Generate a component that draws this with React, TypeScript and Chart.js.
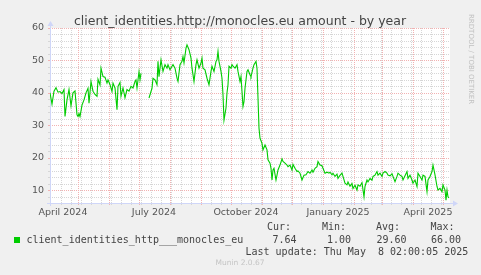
import React, { useEffect, useRef } from 'react';
import { Chart, registerables } from 'chart.js';

Chart.register(...registerables);

const TITLE = 'client_identities.http://monocles.eu amount - by year';
const SERIES_NAME = 'client_identities_http___monocles_eu';
const START_DATE = '2024-04-03';
const SPAN_DAYS = 400;

// day offsets from START_DATE and the plotted value on that day (null = no data)
const days = [
  0, 2, 4, 6, 8, 10, 12, 14, 15, 17,
  19, 21, 23, 25, 27, 28, 29, 30, 32, 34,
  36, 38, 39, 41, 43, 45, 47, 48, 50, 51,
  53, 55, 57, 58, 60, 62, 63, 65, 67, 68,
  70, 71, 73, 75, 77, 79, 81, 83, 85, 86,
  87, 89, 90, 91, 95, 99, 102, 103, 105, 107,
  108, 109, 111, 113, 115, 117, 118, 120, 122, 123,
  125, 127, 128, 130, 132, 133, 134, 136, 137, 139,
  141, 142, 143, 144, 146, 147, 149, 151, 152, 153,
  155, 157, 159, 161, 162, 164, 166, 167, 168, 169,
  171, 172, 173, 174, 176, 177, 178, 179, 181, 182,
  183, 185, 187, 188, 190, 191, 192, 193, 194, 195,
  197, 198, 200, 201, 203, 204, 206, 207, 209, 210,
  212, 213, 215, 217, 218, 220, 221, 222, 223, 224,
  226, 227, 228, 230, 232, 233, 235, 237, 238, 240,
  242, 243, 245, 247, 248, 250, 252, 254, 256, 258,
  260, 262, 263, 265, 267, 268, 270, 272, 273, 275,
  277, 279, 280, 282, 283, 285, 287, 288, 290, 292,
  293, 295, 297, 298, 300, 302, 303, 305, 307, 308,
  310, 312, 314, 315, 317, 318, 320, 322, 323, 325,
  327, 328, 330, 332, 333, 335, 337, 338, 340, 342,
  343, 345, 347, 348, 350, 352, 353, 355, 357, 358,
  360, 362, 363, 365, 367, 368, 370, 372, 373, 375,
  377, 378, 380, 382, 383, 385, 387, 388, 390, 392,
  393, 395, 396, 397, 398, 399,
];

const values: (number | null)[] = [
  40, 36.5, 40.5, 41.6, 40.2, 40.4, 39.8, 41.0, 32.7, 37.8,
  41, 36, 40, 40.6, 33.2, 32.7, 33.6, 32.7, 36.2, 37.8,
  40, 41.4, 36.8, 43.5, 40.5, 39.5, 38.9, 44.2, 42.4, 47.6,
  45, 44.8, 43, 44, 42.5, 40.4, 43, 41.5, 34.8, 42,
  43.2, 39, 41.5, 38.5, 41, 40.5, 42, 41.5, 43.5, 44,
  41.5, 46.5, 44, 46, null, 38.4, 41.4, 44.5, 44, 42.5,
  49.7, 45, 50.2, 46.6, 48.7, 47.6, 48.7, 47.1, 48.2, 48.7,
  47.6, 44.5, 43.5, 48.7, 49.7, 51.2, 49.2, 53.8, 54.8, 53.3,
  50.7, 47.6, 45.6, 43.5, 48.7, 50.2, 47.6, 49.2, 50.7, 47.6,
  47.1, 44.5, 42.5, 46.6, 48.2, 46.6, 49.7, 50.2, 52.8, 49.7,
  46.6, 44.5, 39.4, 31.6, 35.3, 40, 42.5, 48.2, 47.6, 48.7,
  48.2, 47.6, 48.7, 46.6, 43.5, 45, 40.4, 35.8, 37.3, 41.4,
  46.6, 47.1, 45.6, 45, 47.6, 48.7, 49.7, 47.6, 29.1, 26,
  24.4, 22.4, 23.9, 22.4, 19.3, 18.3, 16.7, 13.1, 16.2, 16.7,
  13.1, 14.6, 16.2, 17.7, 19.6, 18.8, 18.3, 17.7, 17.2, 17.7,
  16.2, 17.9, 16.7, 15.7, 15.9, 15.2, 13.1, 14.6, 14.7, 15.7,
  15.2, 16.2, 15.5, 16.7, 17.2, 18.8, 17.7, 17.5, 16.7, 15.2,
  15.5, 15.2, 15.5, 14.7, 15.2, 14.2, 14.9, 13.6, 14.5, 15.2,
  14.2, 12.1, 11.6, 12.5, 11.2, 12, 10.5, 11.5, 10, 11.6,
  11.2, 12.3, 7.9, 11.1, 13.1, 12.5, 13.6, 13, 14.2, 14.6,
  15.7, 14.6, 15.2, 14.2, 15.2, 15.7, 15.2, 14.6, 14.4, 15,
  14.2, 12.6, 14.2, 15.2, 14.6, 14.2, 13.1, 14.4, 15.7, 13.6,
  14.6, 13.1, 12.1, 13.1, 11.1, 15.2, 14.2, 13.1, 14.6, 14.2,
  9.5, 13.1, 14.2, 15.7, 17.7, 14.7, 11.1, 10, 10.5, 9.5,
  11.6, 10, 6.9, 10, 7.9, 7.6,
];

const Y_MIN = 6;
const Y_MAX = 60;
const yTicks = [10, 20, 30, 40, 50, 60];
const xLabelMonths = ['2024-04', '2024-07', '2024-10', '2025-01', '2025-04'];
const xLabels = ['April 2024', 'July 2024', 'October 2024', 'January 2025', 'April 2025'];
const statHeads = ['Cur:', 'Min:', 'Avg:', 'Max:'];
const statValues = ['7.64', '1.00', '29.60', '66.00'];
const LAST_UPDATE = 'Last update: Thu May  8 02:00:05 2025';
const VERSION = 'Munin 2.0.67';
const SIDE_TEXT = 'RRDTOOL / TOBI OETIKER';

const LINE_COLOR = '#00cc00';
const AXIS_COLOR = '#cfd6f8';
const MAJOR_GRID = '#f2b2b2';
const MINOR_GRID = '#d6d6d6';

const DAY_MS = 86400000;
const startMs = (() => {
  const [y, m, d] = START_DATE.split('-').map(Number);
  return Date.UTC(y, m - 1, d);
})();
const dayOf = (y: number, m: number, d: number) => (Date.UTC(y, m, d) - startMs) / DAY_MS;

const monthStarts: number[] = [];
for (let i = 0; i < 16; i++) {
  const v = dayOf(2024, 3 + i, 1);
  if (v > 0 && v < SPAN_DAYS) monthStarts.push(v);
}
const minorLines: number[] = [];
for (let v = 10.7; v < SPAN_DAYS; v += 10) minorLines.push(v);
const labelDays = xLabelMonths.map((s) => {
  const [y, m] = s.split('-').map(Number);
  return dayOf(y, m - 1, 1) + 15;
});

const muninPlugin = {
  id: 'munin',
  beforeDraw(chart: any) {
    const { ctx, chartArea: a } = chart;
    ctx.save();
    ctx.fillStyle = '#f0f0f0';
    ctx.fillRect(0, 0, chart.width, chart.height);
    ctx.fillStyle = '#ffffff';
    ctx.fillRect(a.left, a.top, a.right - a.left, a.bottom - a.top);
    ctx.restore();
  },
  beforeDatasetsDraw(chart: any) {
    const { ctx, chartArea: a, scales } = chart;
    const xs = scales.x;
    const ys = scales.y;
    ctx.save();
    ctx.lineWidth = 1;
    const hline = (v: number, color: string, tick: boolean) => {
      const py = Math.round(ys.getPixelForValue(v)) + 0.5;
      ctx.strokeStyle = color;
      ctx.setLineDash([1, 1]);
      ctx.beginPath();
      ctx.moveTo(a.left, py);
      ctx.lineTo(a.right, py);
      ctx.stroke();
      if (tick) {
        ctx.setLineDash([]);
        ctx.beginPath();
        ctx.moveTo(a.left - 2, py);
        ctx.lineTo(a.left + 1, py);
        ctx.stroke();
      }
    };
    const vline = (v: number, color: string) => {
      const px = Math.round(xs.getPixelForValue(v)) + 0.5;
      ctx.strokeStyle = color;
      ctx.setLineDash([1, 1]);
      ctx.beginPath();
      ctx.moveTo(px, a.top);
      ctx.lineTo(px, a.bottom);
      ctx.stroke();
      ctx.setLineDash([]);
      ctx.beginPath();
      ctx.moveTo(px, a.bottom - 1);
      ctx.lineTo(px, a.bottom + 2);
      ctx.stroke();
    };
    for (let v = Y_MIN + 2; v < Y_MAX; v += 2) if (v % 10 !== 0) hline(v, MINOR_GRID, true);
    minorLines.forEach((v) => vline(v, MINOR_GRID));
    yTicks.forEach((v) => hline(v, MAJOR_GRID, true));
    monthStarts.forEach((v) => vline(v, MAJOR_GRID));

    // axes with arrows
    const ax = Math.round(a.left) + 0.5;
    const ay = Math.round(a.bottom) + 0.5;
    ctx.strokeStyle = AXIS_COLOR;
    ctx.fillStyle = AXIS_COLOR;
    ctx.setLineDash([]);
    ctx.beginPath();
    ctx.moveTo(ax, a.bottom + 3);
    ctx.lineTo(ax, a.top - 3);
    ctx.moveTo(a.left - 3, ay);
    ctx.lineTo(a.right + 3, ay);
    ctx.stroke();
    ctx.beginPath();
    ctx.moveTo(ax, a.top - 7);
    ctx.lineTo(ax - 3, a.top - 2);
    ctx.lineTo(ax + 3, a.top - 2);
    ctx.closePath();
    ctx.fill();
    ctx.beginPath();
    ctx.moveTo(a.right + 8, ay);
    ctx.lineTo(a.right + 3, ay - 3);
    ctx.lineTo(a.right + 3, ay + 3);
    ctx.closePath();
    ctx.fill();
    ctx.restore();
  },
  afterDraw(chart: any) {
    const { ctx } = chart;
    ctx.save();
    // title
    ctx.fillStyle = '#444';
    ctx.font = '12.5px "DejaVu Sans"';
    ctx.textAlign = 'center';
    ctx.textBaseline = 'alphabetic';
    ctx.fillText(TITLE, 240, 25);

    // side text
    ctx.save();
    ctx.translate(471, 14);
    ctx.rotate(Math.PI / 2);
    ctx.font = '7px "DejaVu Sans"';
    ctx.fillStyle = '#c0c0c0';
    ctx.textAlign = 'left';
    ctx.textBaseline = 'middle';
    ctx.fillText(SIDE_TEXT, 0, 0);
    ctx.restore();

    // legend
    ctx.textAlign = 'left';
    ctx.textBaseline = 'middle';
    ctx.font = '10px "DejaVu Sans Mono"';
    ctx.fillStyle = '#444';
    const headX = [267, 322, 376, 430.5];
    statHeads.forEach((t, i) => ctx.fillText(t, headX[i], 227.5));
    const valX = [272.5, 327, 376.5, 431];
    statValues.forEach((t, i) => ctx.fillText(t, valX[i], 240));
    ctx.fillText(SERIES_NAME, 26.5, 240);
    ctx.fillText(LAST_UPDATE, 245.5, 252);
    ctx.fillStyle = LINE_COLOR;
    ctx.fillRect(14, 237, 6, 6);

    ctx.font = '7.5px "DejaVu Sans"';
    ctx.fillStyle = '#c4c4c4';
    ctx.fillText(VERSION, 215.5, 263.5);
    ctx.restore();
  },
};

export default function App() {
  const ref = useRef<HTMLCanvasElement>(null);
  useEffect(() => {
    if (!ref.current) return;
    const points = days.map((d, i) => ({ x: d, y: values[i] }));
    const chart = new Chart(ref.current, {
      type: 'line',
      data: {
        datasets: [
          {
            label: SERIES_NAME,
            data: points as any,
            borderColor: LINE_COLOR,
            borderWidth: 1.1,
            pointRadius: 0,
            tension: 0,
            spanGaps: false,
            fill: false,
          },
        ],
      },
      options: {
        animation: false,
        responsive: false,
        devicePixelRatio: 1,
        layout: { padding: { left: 0, right: 31, top: 28, bottom: 52 } },
        plugins: { legend: { display: false }, tooltip: { enabled: false }, title: { display: false } },
        scales: {
          x: {
            type: 'linear',
            min: 0,
            max: SPAN_DAYS,
            grid: { display: false, drawTicks: false },
            border: { display: false },
            afterBuildTicks: (s: any) => {
              s.ticks = labelDays.map((v) => ({ value: v }));
            },
            afterFit: (s: any) => {
              s.height = 20;
              s.paddingLeft = 0;
              s.paddingRight = 0;
            },
            ticks: {
              autoSkip: false,
              maxRotation: 0,
              minRotation: 0,
              padding: 4,
              color: '#555',
              font: { family: 'DejaVu Sans', size: 9.5 },
              callback: (_v: any, i: number) => xLabels[i],
            },
          },
          y: {
            min: Y_MIN,
            max: Y_MAX,
            grid: { display: false, drawTicks: false },
            border: { display: false },
            afterBuildTicks: (s: any) => {
              s.ticks = yTicks.map((v) => ({ value: v }));
            },
            afterFit: (s: any) => {
              s.width = 50;
              s.paddingTop = 0;
              s.paddingBottom = 0;
            },
            ticks: {
              padding: 6,
              color: '#555',
              font: { family: 'DejaVu Sans', size: 9.5 },
              callback: (v: any) => String(v),
            },
          },
        },
      },
      plugins: [muninPlugin],
    });
    return () => chart.destroy();
  }, []);
  return (
    <div style={{ position: 'fixed', left: 0, top: 0, width: 481, height: 275, background: '#f0f0f0' }}>
      <canvas ref={ref} width={481} height={275} style={{ display: 'block', width: 481, height: 275 }} />
    </div>
  );
}
